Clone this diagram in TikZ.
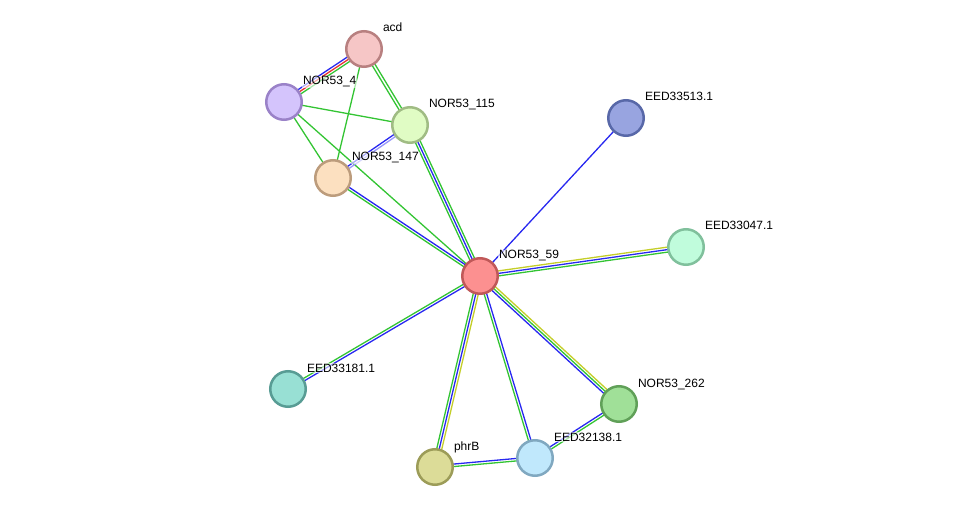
\documentclass[tikz,border=0pt]{standalone}
\usepackage{fontspec}
\setmainfont{Liberation Sans}
\usetikzlibrary{calc}
\pgfdeclarelayer{background}
\pgfsetlayers{background,main}
\definecolor{eg}{RGB}{51,196,51}
\definecolor{eb}{RGB}{40,40,240}
\definecolor{ey}{RGB}{196,206,40}
\definecolor{er}{RGB}{230,50,50}
\definecolor{elb}{RGB}{150,150,250}
\tikzset{
  prot/.style={circle,minimum size=35.5pt,inner sep=0pt,line width=2.5pt},
  lbl/.style={anchor=base west,font=\fontsize{12}{14}\selectfont,inner sep=0.8pt,fill=white,fill opacity=0.6,text opacity=1},
  ln/.style={line width=1.3pt}
}
\newcommand\pline[4]{\draw[ln,#4] ($(#1)!#3!90:(#2)$) -- ($(#2)!#3!-90:(#1)$);}
\begin{document}
\begin{tikzpicture}[x=1pt,y=-1pt]
\useasboundingbox (0,0) rectangle (975,513);
\node[prot,draw={rgb,255:red,184;green,128;blue,128},fill={rgb,255:red,246;green,198;blue,198}] (acd) at (364,49) {};
\node[prot,draw={rgb,255:red,154;green,130;blue,200},fill={rgb,255:red,212;green,196;blue,252}] (n4) at (284,102) {};
\node[prot,draw={rgb,255:red,160;green,188;blue,132},fill={rgb,255:red,224;green,252;blue,196}] (n115) at (410,125) {};
\node[prot,draw={rgb,255:red,188;green,156;blue,124},fill={rgb,255:red,252;green,224;blue,192}] (n147) at (333,178) {};
\node[prot,draw={rgb,255:red,88;green,104;blue,168},fill={rgb,255:red,152;green,164;blue,224}] (e513) at (626,118) {};
\node[prot,draw={rgb,255:red,128;green,192;blue,156},fill={rgb,255:red,192;green,252;blue,220}] (e047) at (686,247) {};
\node[prot,draw={rgb,255:red,192;green,88;blue,88},fill={rgb,255:red,252;green,144;blue,144}] (n59) at (480,276) {};
\node[prot,draw={rgb,255:red,88;green,156;blue,148},fill={rgb,255:red,152;green,224;blue,212}] (e181) at (288,389) {};
\node[prot,draw={rgb,255:red,96;green,160;blue,88},fill={rgb,255:red,160;green,224;blue,152}] (n262) at (619,404) {};
\node[prot,draw={rgb,255:red,156;green,156;blue,88},fill={rgb,255:red,220;green,220;blue,152}] (phrB) at (435,467) {};
\node[prot,draw={rgb,255:red,128;green,168;blue,192},fill={rgb,255:red,192;green,232;blue,252}] (e138) at (535,458) {};
\begin{pgfonlayer}{background}
\pline{acd}{n4}{2.5pt}{eg}
\pline{acd}{n4}{0pt}{er}
\pline{acd}{n4}{-2.5pt}{eb}
\pline{acd}{n115}{1.5pt}{eg}
\pline{acd}{n115}{-1.5pt}{eg}
\pline{acd}{n147}{0pt}{eg}
\pline{n4}{n115}{0pt}{eg}
\pline{n4}{n147}{0pt}{eg}
\pline{n4}{n59}{0pt}{eg}
\pline{n115}{n147}{1.25pt}{elb}
\pline{n115}{n147}{-1.25pt}{eb}
\pline{n115}{n59}{2.5pt}{eg}
\pline{n115}{n59}{0pt}{eb}
\pline{n115}{n59}{-2.5pt}{eg}
\pline{n147}{n59}{1.25pt}{eb}
\pline{n147}{n59}{-1.25pt}{eg}
\pline{n59}{e513}{0pt}{eb}
\pline{n59}{e047}{2.5pt}{ey}
\pline{n59}{e047}{0pt}{eb}
\pline{n59}{e047}{-2.5pt}{eg}
\pline{n59}{e181}{1.25pt}{eb}
\pline{n59}{e181}{-1.25pt}{eg}
\pline{n59}{phrB}{2.5pt}{ey}
\pline{n59}{phrB}{0pt}{eb}
\pline{n59}{phrB}{-2.5pt}{eg}
\pline{n59}{e138}{1.25pt}{eb}
\pline{n59}{e138}{-1.25pt}{eg}
\pline{n59}{n262}{2.5pt}{ey}
\pline{n59}{n262}{0pt}{eg}
\pline{n59}{n262}{-2.5pt}{eb}
\pline{phrB}{e138}{1.25pt}{eb}
\pline{phrB}{e138}{-1.25pt}{eg}
\pline{e138}{n262}{1.25pt}{eb}
\pline{e138}{n262}{-1.25pt}{eg}
\end{pgfonlayer}
\node[lbl] (lacd) at ($(acd)+(18,-17)$) {acd};
\node[lbl] (l4) at ($(n4)+(18,-17)$) {NOR53\_4};
\node[lbl] (l115) at ($(n115)+(18,-17)$) {NOR53\_115};
\node[lbl] (l147) at ($(n147)+(18,-17)$) {NOR53\_147};
\node[lbl] (l513) at ($(e513)+(18,-17)$) {EED33513.1};
\node[lbl] (l047) at ($(e047)+(18,-17)$) {EED33047.1};
\node[lbl] (l59) at ($(n59)+(18,-17)$) {NOR53\_59};
\node[lbl] (l181) at ($(e181)+(18,-17)$) {EED33181.1};
\node[lbl] (l262) at ($(n262)+(18,-17)$) {NOR53\_262};
\node[lbl] (lphrB) at ($(phrB)+(18,-17)$) {phrB};
\node[lbl] (l138) at ($(e138)+(18,-17)$) {EED32138.1};
\end{tikzpicture}
\end{document}
